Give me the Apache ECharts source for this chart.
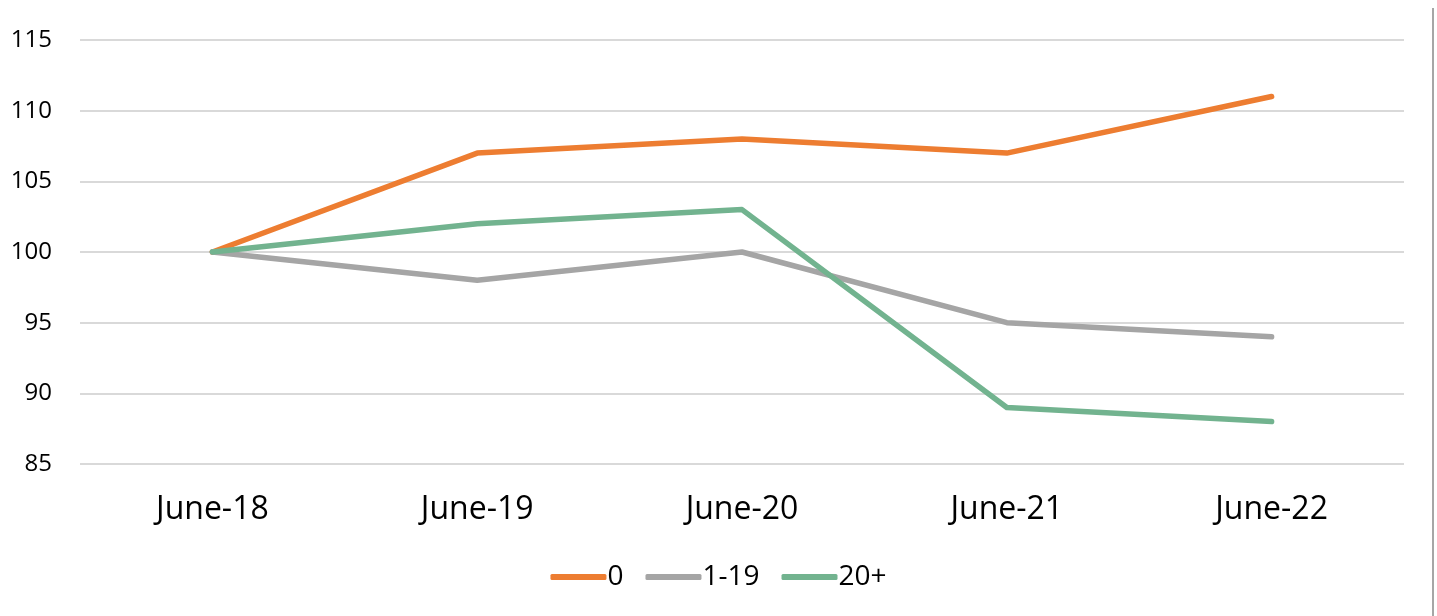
<!DOCTYPE html>
<html>
<head>
<meta charset="utf-8">
<style>
  html, body { margin: 0; padding: 0; background: #fff; }
  #chart { width: 1437px; height: 616px; }
  #edge { position: absolute; left: 1432px; top: 8px; width: 2px; height: 608px; background: #a6a6a6; }
</style>
<script src="https://cdn.jsdelivr.net/npm/echarts@6/dist/echarts.min.js"></script>
</head>
<body>
<div id="chart"></div>
<div id="edge"></div>
<script>
// categories and series values
const categories = ["June-18", "June-19", "June-20", "June-21", "June-22"];
const seriesZero = [100, 107, 108, 107, 111];
const seriesOneToNineteen = [100, 98, 100, 95, 94];
const seriesTwentyPlus = [100, 102, 103, 89, 88];

const chart = echarts.init(document.getElementById("chart"));

const font = "'Open Sans', 'Liberation Sans', sans-serif";

function lineSeries(name, data, color) {
  return {
    name: name,
    type: "line",
    data: data,
    symbol: "none",
    lineStyle: { width: 5.5, color: color, cap: "round", join: "round" },
    itemStyle: { color: color },
  };
}

chart.setOption({
  animation: false,
  textStyle: { fontFamily: font },
  grid: { left: 80, right: 33, top: 40, bottom: 152 },
  xAxis: {
    type: "category",
    data: categories,
    boundaryGap: true,
    axisLine: { show: false },
    axisTick: { show: false },
    axisLabel: { fontSize: 32, color: "#000", margin: 30, fontFamily: font },
  },
  yAxis: {
    type: "value",
    min: 85,
    max: 115,
    interval: 5,
    axisLine: { show: false },
    axisTick: { show: false },
    axisLabel: { fontSize: 24, color: "#000", margin: 28, fontFamily: font },
    splitLine: { lineStyle: { color: "#d9d9d9", width: 2 } },
  },
  legend: {
    bottom: 20,
    left: "center",
    icon: "roundRect",
    itemWidth: 56,
    itemHeight: 6,
    itemGap: 22,
    textStyle: { fontSize: 28, color: "#000", fontFamily: font, padding: [0, 0, 0, -4] },
    data: ["0", "1-19", "20+"],
  },
  series: [
    lineSeries("0", seriesZero, "#ed7d31"),
    lineSeries("1-19", seriesOneToNineteen, "#a5a5a5"),
    lineSeries("20+", seriesTwentyPlus, "#72b38f"),
  ],
});
</script>
</body>
</html>
